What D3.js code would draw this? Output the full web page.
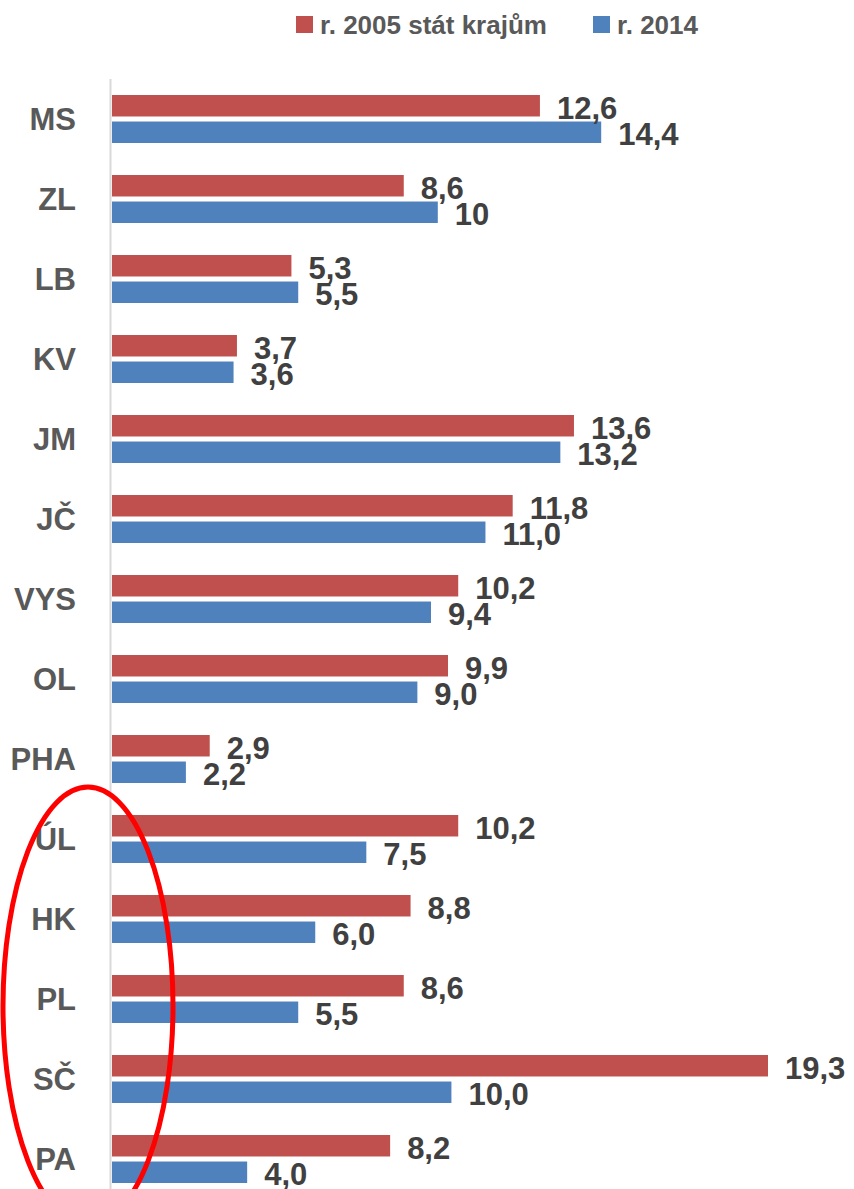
<!DOCTYPE html>
<html>
<head>
<meta charset="utf-8">
<script src="https://cdn.jsdelivr.net/npm/d3@7"></script>
<style>
  body { margin: 0; background: #fff; }
  text { font-family: "Liberation Sans", Arial, sans-serif; font-weight: bold; }
</style>
</head>
<body>
<div id="chart"></div>
<script>
// kraje, odshora dolu
var regions = ["MS", "ZL", "LB", "KV", "JM", "JČ", "VYS", "OL", "PHA", "ÚL", "HK", "PL", "SČ", "PA"]
var series = ["r. 2005 stát krajům", "r. 2014"]
var values2005 = [12.6, 8.6, 5.3, 3.7, 13.6, 11.8, 10.2, 9.9, 2.9, 10.2, 8.8, 8.6, 19.3, 8.2]
var values2014 = [14.4, 9.6, 5.5, 3.6, 13.2, 11.0, 9.4, 9.0, 2.2, 7.5, 6.0, 5.5, 10.0, 4.0]
var labels2005 = ["12,6", "8,6", "5,3", "3,7", "13,6", "11,8", "10,2", "9,9", "2,9", "10,2", "8,8", "8,6", "19,3", "8,2"]
var labels2014 = ["14,4", "10", "5,5", "3,6", "13,2", "11,0", "9,4", "9,0", "2,2", "7,5", "6,0", "5,5", "10,0", "4,0"]
var colors = ["#c0504d", "#4f81bd"]

var width = 854, height = 1189

var svg = d3.select("#chart").append("svg")
    .attr("width", width).attr("height", height)

var x = d3.scaleLinear().domain([0, 19.3]).range([111, 768])
var y = d3.scaleBand().domain(regions).range([79, 1199])
    .paddingInner(0.4).paddingOuter(0.2)
var ySub = d3.scaleBand().domain(series).range([0, y.bandwidth()]).paddingInner(0.19)

var rows = regions.map(function(r, i) {
  return {region: r, vals: [
    {s: series[0], v: values2005[i], label: labels2005[i], c: colors[0]},
    {s: series[1], v: values2014[i], label: labels2014[i], c: colors[1]}
  ]}
})

// osa
svg.append("line")
    .attr("x1", 110.5).attr("x2", 110.5)
    .attr("y1", 79).attr("y2", height)
    .style("stroke", "#d9d9d9").style("stroke-width", 2)

var g = svg.selectAll("g.row").data(rows).enter().append("g")
    .attr("class", "row")
    .attr("transform", function(d) { return "translate(0," + y(d.region) + ")" })

g.selectAll("rect").data(function(d) { return d.vals }).enter().append("rect")
    .attr("x", x(0) + 1)
    .attr("y", function(d) { return ySub(d.s) })
    .attr("width", function(d) { return x(d.v) - x(0) - 1 })
    .attr("height", ySub.bandwidth())
    .style("fill", function(d) { return d.c })

g.selectAll("text.val").data(function(d) { return d.vals }).enter().append("text")
    .attr("class", "val")
    .attr("x", function(d) { return x(d.v) + 17 })
    .attr("y", function(d) { return ySub(d.s) + ySub.bandwidth() / 2 + 2 })
    .attr("dy", "0.35em")
    .style("font-size", "31px")
    .style("fill", "#404040")
    .text(function(d) { return d.label })

// popisky kategorii
g.append("text")
    .attr("x", 76)
    .attr("y", y.bandwidth() / 2)
    .attr("dy", "0.35em")
    .attr("text-anchor", "end")
    .style("font-size", "31px")
    .style("fill", "#595959")
    .text(function(d) { return d.region })

// legenda
var legendX = [296, 593]
var legend = svg.selectAll("g.legend").data(series).enter().append("g")
    .attr("class", "legend")
    .attr("transform", function(d, i) { return "translate(" + legendX[i] + ",16)" })
legend.append("rect")
    .attr("width", 17).attr("height", 17)
    .style("fill", function(d, i) { return colors[i] })
legend.append("text")
    .attr("x", 24).attr("y", 8.5).attr("dy", "0.35em")
    .style("font-size", "26px")
    .style("fill", "#595959")
    .text(function(d) { return d })

// cervena elipsa (zvyrazneni)
svg.append("ellipse")
    .attr("cx", 88).attr("cy", 1006)
    .attr("rx", 85).attr("ry", 219)
    .style("fill", "none")
    .style("stroke", "#ff0000")
    .style("stroke-width", 5)
</script>
</body>
</html>
